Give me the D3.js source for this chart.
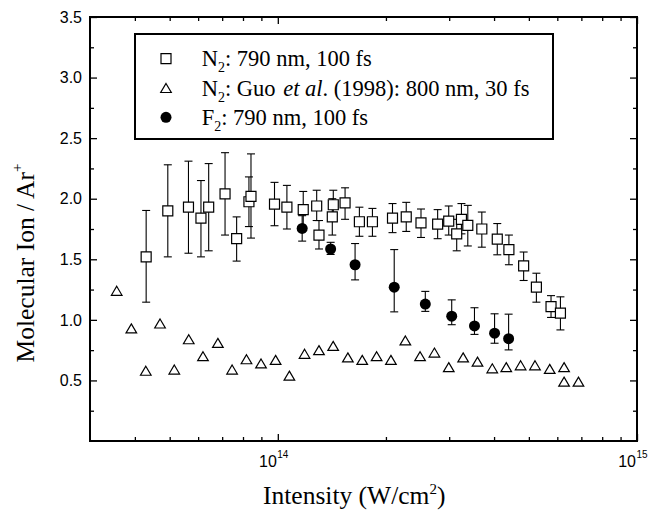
<!DOCTYPE html>
<html>
<head>
<meta charset="utf-8">
<script src="https://cdn.jsdelivr.net/npm/d3@7"></script>
<style>
  body { margin: 0; background: #fff; }
  .tick line { stroke: #000; stroke-width: 1.3; }
  .serif { font-family: "Liberation Serif", "Times New Roman", serif; }
  .sans { font-family: "Liberation Sans", Arial, sans-serif; }
</style>
</head>
<body>
<div id="chart"></div>
<script>
// N2, 790 nm, 100 fs (open squares, with error bars)
const n2Intensity = [4.30e13, 4.94e13, 5.64e13, 6.11e13, 6.42e13, 7.13e13, 7.68e13, 8.31e13, 8.42e13, 9.79e13,
  1.060e14, 1.177e14, 1.283e14, 1.302e14, 1.418e14, 1.427e14, 1.539e14, 1.687e14, 1.834e14,
  2.086e14, 2.278e14, 2.504e14, 2.786e14, 2.991e14, 3.148e14, 3.245e14, 3.380e14, 3.698e14,
  4.083e14, 4.399e14, 4.835e14, 5.247e14, 5.763e14, 6.121e14]
const n2Ratio = [1.52, 1.90, 1.93, 1.84, 1.93, 2.04, 1.67, 1.975, 2.02, 1.955,
  1.93, 1.91, 1.94, 1.70, 1.85, 1.95, 1.965, 1.81, 1.81,
  1.84, 1.85, 1.80, 1.79, 1.815, 1.71, 1.83, 1.78, 1.75,
  1.667, 1.58, 1.446, 1.27, 1.11, 1.055]
const n2Low = [1.146, 1.52, 1.55, 1.52, 1.57, 1.70, 1.485, 1.77, 1.675, 1.777,
  1.75, 1.76, 1.82, 1.585, 1.70, 1.83, 1.83, 1.69, 1.69,
  1.72, 1.73, 1.68, 1.67, 1.70, 1.57, 1.71, 1.61, 1.60,
  1.537, 1.455, 1.325, 1.146, 1.02, 0.917]
const n2High = [1.903, 2.28, 2.31, 2.15, 2.29, 2.38, 1.85, 2.18, 2.37, 2.135,
  2.11, 2.06, 2.07, 1.82, 2.0, 2.07, 2.09, 1.93, 1.92,
  1.96, 1.97, 1.915, 1.91, 1.94, 1.83, 1.96, 1.945, 1.89,
  1.795, 1.70, 1.56, 1.385, 1.20, 1.19]

// N2, Guo et al. (1998) (open triangles)
const guoIntensity = [3.56e13, 3.91e13, 4.29e13, 4.70e13, 5.15e13, 5.65e13, 6.19e13, 6.81e13, 7.46e13, 8.18e13,
  8.98e13, 9.86e13, 1.077e14, 1.187e14, 1.302e14, 1.426e14, 1.567e14, 1.718e14, 1.884e14, 2.065e14,
  2.265e14, 2.489e14, 2.729e14, 2.992e14, 3.281e14, 3.597e14, 3.954e14, 4.325e14, 4.742e14, 5.200e14,
  5.715e14, 6.266e14, 6.266e14, 6.871e14]
const guoRatio = [1.24, 0.93, 0.58, 0.97, 0.59, 0.84, 0.70, 0.81, 0.59, 0.675,
  0.64, 0.67, 0.54, 0.72, 0.75, 0.785, 0.69, 0.67, 0.70, 0.67,
  0.83, 0.70, 0.73, 0.61, 0.69, 0.655, 0.60, 0.61, 0.625, 0.625,
  0.595, 0.61, 0.49, 0.49]

// F2, 790 nm, 100 fs (filled circles, with error bars)
const f2Intensity = [1.169e14, 1.403e14, 1.641e14, 2.109e14, 2.574e14, 3.049e14, 3.528e14, 4.013e14, 4.391e14]
const f2Ratio = [1.755, 1.585, 1.455, 1.27, 1.13, 1.03, 0.95, 0.89, 0.845]
const f2Low = [1.65, 1.54, 1.33, 1.066, 1.07, 0.96, 0.88, 0.807, 0.752]
const f2High = [1.86, 1.64, 1.63, 1.58, 1.235, 1.165, 1.10, 1.05, 1.047]

// Axis ticks
const xMajor = [1e14, 1e15]
const xMinor = [4e13, 5e13, 6e13, 7e13, 8e13, 9e13, 2e14, 3e14, 4e14, 5e14, 6e14, 7e14, 8e14, 9e14]
const yMajor = [0.5, 1.0, 1.5, 2.0, 2.5, 3.0, 3.5]
const yMinor = [0.25, 0.75, 1.25, 1.75, 2.25, 2.75, 3.25]

const width = 667
const height = 512
const plot = { left: 90, right: 637, top: 17, bottom: 441 }

const svg = d3.select('#chart')
  .append('svg')
  .attr('width', width)
  .attr('height', height)

const x = d3.scaleLog().domain([3e13, 1e15]).range([plot.left, plot.right])
const y = d3.scaleLinear().domain([0, 3.5]).range([plot.bottom, plot.top])

// inward ticks on all four sides
const addTicks = (axis, tx, ty, values, size) => {
  svg.append('g')
    .attr('transform', `translate(${tx},${ty})`)
    .call(axis.tickValues(values).tickSize(-size).tickFormat(''))
    .call(g => g.select('.domain').remove())
}
addTicks(d3.axisBottom(x), 0, plot.bottom, xMajor, 7)
addTicks(d3.axisBottom(x), 0, plot.bottom, xMinor, 4)
addTicks(d3.axisTop(x), 0, plot.top, xMajor, 7)
addTicks(d3.axisTop(x), 0, plot.top, xMinor, 4)
addTicks(d3.axisLeft(y), plot.left, 0, yMajor, 7)
addTicks(d3.axisLeft(y), plot.left, 0, yMinor, 4)
addTicks(d3.axisRight(y), plot.right, 0, yMajor, 7)
addTicks(d3.axisRight(y), plot.right, 0, yMinor, 4)

// frame
svg.append('rect')
  .attr('x', plot.left)
  .attr('y', plot.top)
  .attr('width', plot.right - plot.left)
  .attr('height', plot.bottom - plot.top)
  .attr('fill', 'none')
  .attr('stroke', '#000')
  .attr('stroke-width', 2)

// y tick labels
svg.append('g').selectAll('text')
  .data(yMajor)
  .enter().append('text')
  .attr('class', 'sans')
  .attr('x', plot.left - 8)
  .attr('y', d => y(d))
  .attr('dy', '0.36em')
  .attr('text-anchor', 'end')
  .attr('font-size', 16)
  .text(d => d.toFixed(1))

// x tick labels: 10^n
svg.append('g').selectAll('text')
  .data(xMajor)
  .enter().append('text')
  .attr('class', 'sans')
  .attr('x', d => x(d) - 1)
  .attr('y', 467)
  .attr('text-anchor', 'end')
  .attr('font-size', 16)
  .text('10')
svg.append('g').selectAll('text')
  .data(xMajor)
  .enter().append('text')
  .attr('class', 'sans')
  .attr('x', d => x(d) - 0.5)
  .attr('y', 458)
  .attr('font-size', 10)
  .text(d => Math.round(Math.log10(d)))

// axis titles
const xt = svg.append('text')
  .attr('class', 'serif')
  .attr('x', 263)
  .attr('y', 504)
  .attr('font-size', 25.5)
xt.append('tspan').text('Intensity (W/cm')
xt.append('tspan').attr('font-size', 15).attr('dy', -10).text('2')
xt.append('tspan').attr('dy', 10).text(')')

const yt = svg.append('text')
  .attr('class', 'serif')
  .attr('transform', 'translate(34,263) rotate(-90)')
  .attr('text-anchor', 'middle')
  .attr('font-size', 25.5)
yt.append('tspan').text('Molecular Ion / Ar')
yt.append('tspan').attr('font-size', 15).attr('dy', -12).text('+')

// error bars
const capW = 4
const errorBars = (xs, lo, hi) => {
  const g = svg.append('g').attr('stroke', '#000').attr('stroke-width', 1.1)
  xs.forEach((v, i) => {
    const cx = x(v)
    g.append('line').attr('x1', cx).attr('x2', cx).attr('y1', y(lo[i])).attr('y2', y(hi[i]))
    g.append('line').attr('x1', cx - capW).attr('x2', cx + capW).attr('y1', y(lo[i])).attr('y2', y(lo[i]))
    g.append('line').attr('x1', cx - capW).attr('x2', cx + capW).attr('y1', y(hi[i])).attr('y2', y(hi[i]))
  })
}
errorBars(n2Intensity, n2Low, n2High)
errorBars(f2Intensity, f2Low, f2High)

const squarePath = d3.symbol().type(d3.symbolSquare).size(100)()
const trianglePath = 'M0,-4.5L5.3,4.5L-5.3,4.5Z'
const circlePath = d3.symbol().type(d3.symbolCircle).size(95)()

// Guo triangles
svg.append('g').selectAll('path')
  .data(guoIntensity)
  .enter().append('path')
  .attr('d', trianglePath)
  .attr('transform', (d, i) => `translate(${x(d)},${y(guoRatio[i])})`)
  .attr('fill', '#fff')
  .attr('stroke', '#000')
  .attr('stroke-width', 1.2)

// N2 squares
svg.append('g').selectAll('path')
  .data(n2Intensity)
  .enter().append('path')
  .attr('d', squarePath)
  .attr('transform', (d, i) => `translate(${x(d)},${y(n2Ratio[i])})`)
  .attr('fill', '#fff')
  .attr('stroke', '#000')
  .attr('stroke-width', 1.2)

// F2 circles
svg.append('g').selectAll('path')
  .data(f2Intensity)
  .enter().append('path')
  .attr('d', circlePath)
  .attr('transform', (d, i) => `translate(${x(d)},${y(f2Ratio[i])})`)
  .attr('fill', '#000')

// legend
const legend = svg.append('g')
legend.append('rect')
  .attr('x', 135).attr('y', 34)
  .attr('width', 418).attr('height', 105)
  .attr('fill', '#fff')
  .attr('stroke', '#000')
  .attr('stroke-width', 2)

const rows = [58.7, 88, 117.3]
legend.append('path').attr('d', squarePath).attr('transform', `translate(166,${rows[0]})`)
  .attr('fill', '#fff').attr('stroke', '#000').attr('stroke-width', 1.2)
legend.append('path').attr('d', trianglePath).attr('transform', `translate(166,${rows[1]})`)
  .attr('fill', '#fff').attr('stroke', '#000').attr('stroke-width', 1.2)
legend.append('path').attr('d', circlePath).attr('transform', `translate(166,${rows[2]})`)
  .attr('fill', '#000')

const legendText = (row, first, rest) => {
  const t = legend.append('text')
    .attr('class', 'serif')
    .attr('x', 201.7)
    .attr('y', row + 7.5)
    .attr('font-size', 22.5)
  t.append('tspan').text(first)
  t.append('tspan').attr('font-size', 14).attr('dy', 6).text('2')
  rest(t)
}
legendText(rows[0], 'N', t => t.append('tspan').attr('dy', -6).text(': 790 nm, 100 fs'))
legendText(rows[1], 'N', t => {
  t.append('tspan').attr('dy', -6).text(': Guo ')
  t.append('tspan').attr('dx', 2).attr('font-style', 'italic').text('et al')
  t.append('tspan').text('. (1998): 800 nm, 30 fs')
})
legendText(rows[2], 'F', t => t.append('tspan').attr('dy', -6).text(': 790 nm, 100 fs'))
</script>
</body>
</html>
